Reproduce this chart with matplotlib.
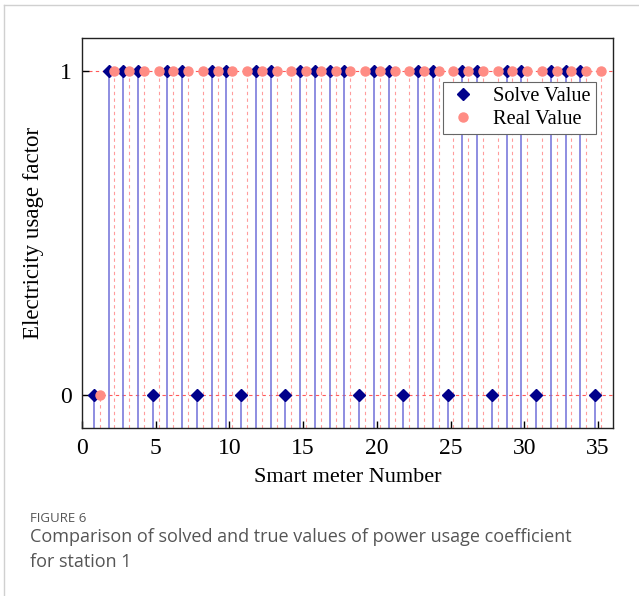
import matplotlib
matplotlib.use('Agg')
import matplotlib.pyplot as plt
from matplotlib.lines import Line2D

meters = list(range(1, 36))
solve_value = [0, 1, 1, 1, 0, 1, 1, 0, 1, 1, 0, 1, 1, 0, 1, 1, 1, 1, 0, 1,
               1, 0, 1, 1, 0, 1, 1, 0, 1, 1, 0, 1, 1, 1, 0]
real_value = [0, 1, 1, 1, 1, 1, 1, 1, 1, 1, 1, 1, 1, 1, 1, 1, 1, 1, 1, 1,
              1, 1, 1, 1, 1, 1, 1, 1, 1, 1, 1, 1, 1, 1, 1]

serif = ['Liberation Serif', 'DejaVu Serif']

fig = plt.figure(figsize=(6.39, 5.96), dpi=100)
ax = fig.add_axes([0.1283, 0.2819, 0.8305, 0.6543])

ymin = -0.1
xs_solve = [m - 0.2 for m in meters]
xs_real = [m + 0.2 for m in meters]

# reference lines
for yy in [0, 1]:
    ax.axhline(yy, color='#ff5a5a', lw=0.8, ls=(0, (3, 3)), zorder=1)

# drop lines
ax.vlines(xs_real, ymin, real_value, colors='#ff9c9c', lw=0.8,
          linestyles=(0, (3, 3)), zorder=2)
ax.vlines(xs_solve, ymin, solve_value, colors='#6f6fd8', lw=1.1, zorder=2)

ax.plot(xs_solve, solve_value, ls='none', marker='D', ms=6.5,
        color='#00008b', zorder=4)
ax.plot(xs_real, real_value, ls='none', marker='o', ms=6.5,
        color='#ff8c84', zorder=5)

ax.set_xlim(0, 36)
ax.set_ylim(-0.1, 1.1)
ax.set_xticks([0, 5, 10, 15, 20, 25, 30, 35])
ax.set_yticks([0, 1])
ax.tick_params(direction='in', length=5, width=1, top=False, right=False,
               labelsize=17, pad=7)
for lab in ax.get_xticklabels() + ax.get_yticklabels():
    lab.set_fontfamily(serif)
for s in ax.spines.values():
    s.set_linewidth(1.0)
    s.set_color('#222222')

ax.set_xlabel('Smart meter Number', fontsize=16, family=serif, labelpad=7)
ax.set_ylabel('Electricity usage factor', fontsize=16.5, family=serif, labelpad=12)

handles = [
    Line2D([], [], ls='none', marker='D', ms=6.5, color='#00008b'),
    Line2D([], [], ls='none', marker='o', ms=6.5, color='#ff8c84'),
]
leg = ax.legend(handles, ['Solve Value', 'Real Value'], loc='upper right',
                bbox_to_anchor=(0.9685, 0.887), borderaxespad=0,
                prop={'family': serif, 'size': 14.7},
                fancybox=False, edgecolor='#666666', framealpha=1,
                handletextpad=0.8, borderpad=0.25, labelspacing=0.15,
                handlelength=1.4)
leg.get_frame().set_linewidth(0.8)

# figure frame (top and left edges)
fig.add_artist(Line2D([4 / 639, 4 / 639], [0, 1 - 5 / 596],
                      transform=fig.transFigure, color='#d0d0d0', lw=1))
fig.add_artist(Line2D([4 / 639, 1], [1 - 5 / 596, 1 - 5 / 596],
                      transform=fig.transFigure, color='#d0d0d0', lw=1))

fig.text(30 / 639, 1 - 518 / 596, 'FIGURE 6', fontsize=9.5, color='#555555',
         family='Open Sans', va='center')
fig.text(30 / 639, 1 - 537 / 596,
         'Comparison of solved and true values of power usage coefficient',
         fontsize=13, color='#555555', family='Open Sans', va='center')
fig.text(30 / 639, 1 - 562 / 596, 'for station 1', fontsize=13,
         color='#555555', family='Open Sans', va='center')

fig.savefig('out.png', dpi=100)
